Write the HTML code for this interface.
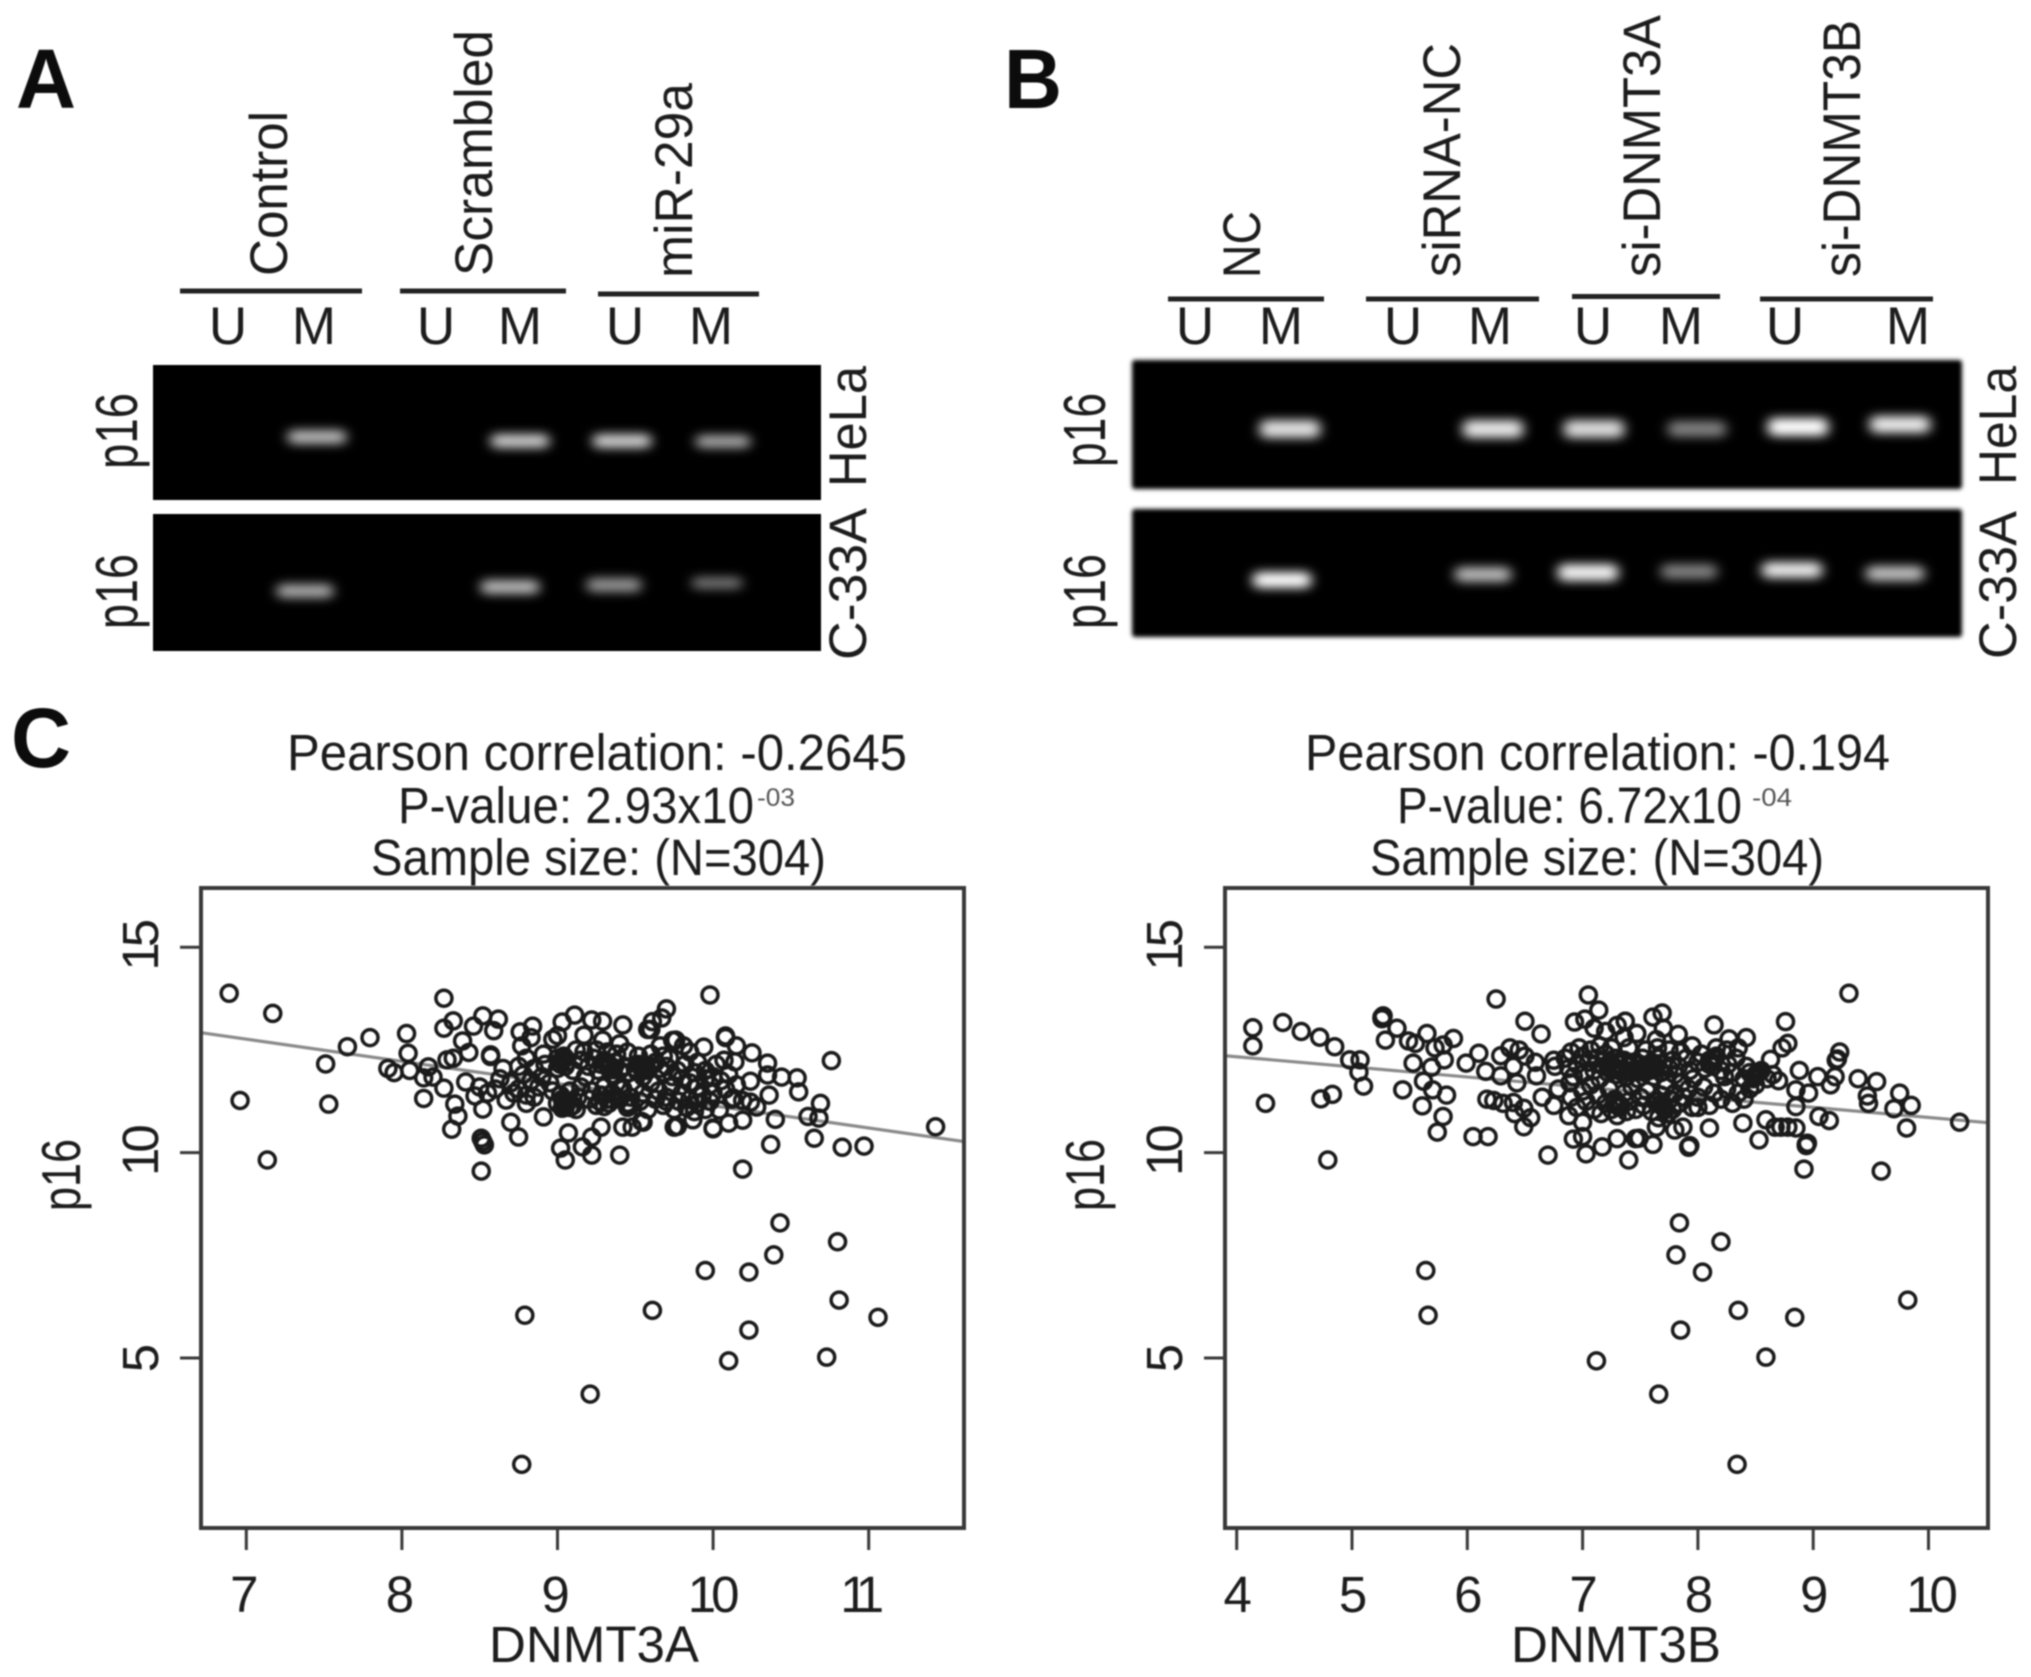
<!DOCTYPE html>
<html lang="en">
<head>
<meta charset="utf-8">
<title>p16 methylation and DNMT3A/DNMT3B correlation</title>
<style>
html,body{margin:0;padding:0;background:#fff;}
body{width:2031px;height:1677px;overflow:hidden;}
#figure{display:block;filter:blur(0.9px);}
text{font-family:"Liberation Sans",Arial,sans-serif;fill:#1c1c1c;}
.lab{font-size:53px;}
.gellab{font-size:59px;}
.ttl{font-size:51px;}
.let{font-size:84px;font-weight:bold;fill:#0c0c0c;}
.bar{stroke:#222;stroke-width:5;}
</style>
</head>
<body>
<svg id="figure" xmlns="http://www.w3.org/2000/svg" width="2031" height="1677" viewBox="0 0 2031 1677">
<defs>
<filter id="bandBlur" x="-40%" y="-150%" width="180%" height="400%"><feGaussianBlur stdDeviation="6 5"/></filter>
<filter id="edgeBlur" x="-2%" y="-5%" width="104%" height="110%"><feGaussianBlur stdDeviation="2"/></filter>
</defs>
<rect width="2031" height="1677" fill="#fff"/>

<!-- Panel letters -->
<text class="let" x="16" y="108" textLength="60" lengthAdjust="spacingAndGlyphs">A</text>
<text class="let" x="1004" y="108" textLength="58" lengthAdjust="spacingAndGlyphs">B</text>
<text class="let" x="11" y="767" textLength="60" lengthAdjust="spacingAndGlyphs">C</text>

<!-- Panel A group labels -->
<g>
<text class="lab" transform="translate(287,276) rotate(-90)" textLength="165" lengthAdjust="spacingAndGlyphs">Control</text>
<text class="lab" transform="translate(492,276) rotate(-90)" textLength="246" lengthAdjust="spacingAndGlyphs">Scrambled</text>
<text class="lab" transform="translate(692,278) rotate(-90)" textLength="195" lengthAdjust="spacingAndGlyphs">miR-29a</text>
<line class="bar" x1="180" y1="291" x2="362" y2="291"/>
<line class="bar" x1="400" y1="291" x2="566" y2="291"/>
<line class="bar" x1="598" y1="294" x2="759" y2="294"/>
<text class="lab" x="228" y="344" text-anchor="middle">U</text>
<text class="lab" x="314" y="344" text-anchor="middle">M</text>
<text class="lab" x="436" y="344" text-anchor="middle">U</text>
<text class="lab" x="520" y="344" text-anchor="middle">M</text>
<text class="lab" x="625" y="344" text-anchor="middle">U</text>
<text class="lab" x="711" y="344" text-anchor="middle">M</text>
</g>

<!-- Panel A gels -->
<g>
<rect x="153" y="365" width="668" height="135" fill="#000"/>
<rect x="153" y="514" width="668" height="137" fill="#000"/>
<g fill="#fff" filter="url(#bandBlur)">
<rect x="288" y="430" width="58" height="14" rx="5" opacity=".72"/>
<rect x="491" y="434" width="58" height="14" rx="5" opacity=".8"/>
<rect x="593" y="434" width="58" height="14" rx="5" opacity=".82"/>
<rect x="696" y="435" width="54" height="13" rx="5" opacity=".65"/>
<rect x="277" y="584" width="56" height="14" rx="5" opacity=".66"/>
<rect x="481" y="580" width="58" height="14" rx="5" opacity=".72"/>
<rect x="587" y="578" width="54" height="14" rx="5" opacity=".58"/>
<rect x="692" y="577" width="50" height="12" rx="5" opacity=".45"/>
</g>
</g>
<text class="gellab" transform="translate(137,469) rotate(-90)" textLength="76" lengthAdjust="spacingAndGlyphs">p16</text>
<text class="gellab" transform="translate(137,629) rotate(-90)" textLength="75" lengthAdjust="spacingAndGlyphs">p16</text>
<text class="lab" transform="translate(866,487) rotate(-90)" textLength="121" lengthAdjust="spacingAndGlyphs">HeLa</text>
<text class="lab" transform="translate(866,660) rotate(-90)" textLength="152" lengthAdjust="spacingAndGlyphs">C-33A</text>

<!-- Panel B group labels -->
<g>
<text class="lab" transform="translate(1260,278) rotate(-90)" textLength="67" lengthAdjust="spacingAndGlyphs">NC</text>
<text class="lab" transform="translate(1460,277) rotate(-90)" textLength="234" lengthAdjust="spacingAndGlyphs">siRNA-NC</text>
<text class="lab" transform="translate(1660,277) rotate(-90)" textLength="262" lengthAdjust="spacingAndGlyphs">si-DNMT3A</text>
<text class="lab" transform="translate(1860,277) rotate(-90)" textLength="257" lengthAdjust="spacingAndGlyphs">si-DNMT3B</text>
<line class="bar" x1="1168" y1="299" x2="1324" y2="299"/>
<line class="bar" x1="1366" y1="299" x2="1539" y2="299"/>
<line class="bar" x1="1572" y1="296.5" x2="1720" y2="296.5"/>
<line class="bar" x1="1760" y1="299" x2="1933" y2="299"/>
<text class="lab" x="1195" y="344" text-anchor="middle">U</text>
<text class="lab" x="1281" y="344" text-anchor="middle">M</text>
<text class="lab" x="1403" y="344" text-anchor="middle">U</text>
<text class="lab" x="1490" y="344" text-anchor="middle">M</text>
<text class="lab" x="1593" y="344" text-anchor="middle">U</text>
<text class="lab" x="1681" y="344" text-anchor="middle">M</text>
<text class="lab" x="1785" y="344" text-anchor="middle">U</text>
<text class="lab" x="1908" y="344" text-anchor="middle">M</text>
</g>

<!-- Panel B gels -->
<g>
<rect x="1132" y="360" width="830" height="129" rx="3" fill="#000" filter="url(#edgeBlur)"/>
<rect x="1132" y="509" width="830" height="128" rx="3" fill="#000" filter="url(#edgeBlur)"/>
<g fill="#fff" filter="url(#bandBlur)">
<rect x="1260" y="420" width="60" height="18" rx="6" opacity=".88"/>
<rect x="1463" y="420" width="60" height="18" rx="6" opacity=".9"/>
<rect x="1564" y="420" width="60" height="18" rx="6" opacity=".86"/>
<rect x="1668" y="421" width="58" height="16" rx="6" opacity=".5"/>
<rect x="1768" y="418" width="60" height="18" rx="6" opacity="1"/>
<rect x="1870" y="416" width="60" height="17" rx="6" opacity=".92"/>
<rect x="1253" y="572" width="58" height="16" rx="6" opacity="1"/>
<rect x="1455" y="567" width="56" height="15" rx="6" opacity=".72"/>
<rect x="1558" y="564" width="60" height="17" rx="6" opacity=".95"/>
<rect x="1661" y="564" width="56" height="15" rx="6" opacity=".5"/>
<rect x="1762" y="562" width="60" height="16" rx="6" opacity=".92"/>
<rect x="1866" y="566" width="58" height="15" rx="6" opacity=".75"/>
</g>
</g>
<text class="gellab" transform="translate(1105,467) rotate(-90)" textLength="74" lengthAdjust="spacingAndGlyphs">p16</text>
<text class="gellab" transform="translate(1105,629) rotate(-90)" textLength="75" lengthAdjust="spacingAndGlyphs">p16</text>
<text class="lab" transform="translate(2016,485) rotate(-90)" textLength="119" lengthAdjust="spacingAndGlyphs">HeLa</text>
<text class="lab" transform="translate(2016,659) rotate(-90)" textLength="148" lengthAdjust="spacingAndGlyphs">C-33A</text>

<!-- Titles of scatter plots -->
<g>
<text class="ttl" x="287" y="770" textLength="620" lengthAdjust="spacingAndGlyphs">Pearson correlation: -0.2645</text>
<text class="ttl" x="398" y="823" textLength="356" lengthAdjust="spacingAndGlyphs">P-value: 2.93x10</text>
<text x="757" y="806" font-size="25" textLength="38" lengthAdjust="spacingAndGlyphs" style="fill:#555">-03</text>
<text class="ttl" x="371" y="875" textLength="455" lengthAdjust="spacingAndGlyphs">Sample size: (N=304)</text>
</g>
<g>
<text class="ttl" x="1397" y="823" textLength="345" lengthAdjust="spacingAndGlyphs">P-value: 6.72x10</text>
<text x="1752" y="806" font-size="25" textLength="40" lengthAdjust="spacingAndGlyphs" style="fill:#555">-04</text>
<text class="ttl" x="1305" y="770" textLength="585" lengthAdjust="spacingAndGlyphs">Pearson correlation: -0.194</text>
<text class="ttl" x="1370" y="875" textLength="454" lengthAdjust="spacingAndGlyphs">Sample size: (N=304)</text>
</g>

<g id="plot-left"></g>
<g id="plot-right"></g>
</svg>

<script>
// Tick values
const xTicksLeft = [7, 8, 9, 10, 11];
const xTicksRight = [4, 5, 6, 7, 8, 9, 10];
const yTicks = [5, 10, 15];

// Fitted line, p16 value at the left and right plot edges
const fitLeft = [12.92, 10.27];
const fitRight = [12.36, 10.73];

// Left plot: DNMT3A expression (x) and p16 expression (y)
const dnmt3aValues = [
6.89,7.17,6.96,7.135,7.51,7.53,7.65,7.795,8.03,8.04,7.91,7.95,8.05,8.27,8.27,8.33,8.39,8.43,8.46,8.52,
8.62,8.59,8.57,8.57,8.57,8.17,8.14,8.2,8.29,8.33,8.27,8.14,8.34,8.36,8.32,8.41,8.47,8.52,8.51,8.53,
8.51,8.52,8.70,8.75,8.67,8.80,8.91,9.02,9.05,9.07,9.22,9.40,9.16,9.22,9.28,9.42,9.54,9.48,9.75,9.42,
9.11,9.03,8.84,8.76,9.22,9.29,9.70,9.67,9.61,9.58,9.17,9.29,8.97,9.0,8.77,8.83,8.91,9.17,9.74,9.40,
9.98,10.76,11.43,10.97,10.83,10.65,10.40,10.37,10.19,10.69,10.68,10.61,10.55,10.54,10.44,10.36,10.24,10.35,10.25,10.35,
10.15,10.08,10.08,10.08,10.14,10.07,9.94,10.0,10.0,10.10,10.19,10.28,10.13,10.19,10.24,10.04,9.77,9.87,9.55,9.76,9.66,9.60,9.81,
8.79,8.77,9.21,9.61,9.95,10.10,10.23,10.23,10.39,10.43,10.73,10.80,10.81,11.06,
9.0,9.02,9.03,9.05,9.04,9.0,9.06,9.1,9.03,9.05,9.07,9.1,9.12,9.0,9.02,9.08,9.13,9.15,
9.2,9.23,9.26,9.28,9.3,9.33,9.35,9.37,9.4,9.43,9.46,9.5,9.52,9.55,9.58,9.6,9.63,9.66,9.68,9.7,9.72,9.74,9.77,9.8,9.82,9.85,9.88,9.9,
9.2,9.22,9.25,9.28,9.3,9.33,9.35,9.38,9.4,9.42,9.45,9.47,9.5,9.53,9.55,9.58,9.6,9.63,9.65,9.68,9.7,9.73,9.75,9.78,9.8,9.83,9.85,9.88,9.9,9.93,9.95,9.98,
8.75,8.78,8.8,8.83,8.85,8.88,8.9,8.92,8.95,8.97,8.7,8.72,8.75,8.8,8.85,8.6,8.63,8.55,8.5,8.65,
9.12,9.15,9.18,9.25,9.32,9.38,9.45,9.52,9.6,9.68,9.85,9.9,9.95,10.0,10.02,10.05,10.08,10.1,10.12,10.15,10.0,9.98,9.95,
9.03,9.01,9.05,9.04,9.06,9.03,9.08,9.34,9.36,9.31,9.55,9.57,9.53,9.51,9.27,9.3,9.32,9.45,9.47,9.7
];
const p16LeftValues = [
13.88,13.39,11.27,9.82,12.16,11.18,12.58,12.8,12.9,12.42,12.05,11.95,12.0,13.76,13.03,13.21,12.72,12.44,13.08,13.33,
13.25,12.97,12.36,12.38,12.34,12.09,11.82,11.84,12.26,12.3,11.57,11.32,11.18,10.89,10.57,11.72,11.38,11.06,10.35,10.19,
9.55,10.27,10.74,10.38,11.28,11.2,10.87,10.11,9.82,10.48,9.94,9.94,10.14,10.38,10.62,10.62,10.76,10.62,10.62,13.11,
13.35,13.18,13.08,12.94,13.23,13.2,13.5,13.28,13.19,13.0,12.86,12.74,12.76,12.85,12.6,12.8,12.4,12.45,12.73,12.65,
13.84,12.24,10.63,10.16,10.13,10.35,10.81,10.2,9.6,11.2,10.84,10.88,11.48,11.82,11.84,11.4,11.74,12.18,12.43,11.89,
12.6,12.82,12.84,12.8,12.21,12.25,12.57,10.6,10.58,10.72,10.79,11.11,11.33,11.27,11.23,11.04,10.64,10.8,10.74,12.74,12.6,13.0,12.6,
6.04,2.41,4.12,6.16,7.13,4.93,7.09,5.68,7.51,8.29,5.02,7.83,6.41,5.99,
12.3,12.15,12.25,12.1,12.35,12.05,12.2,12.0,11.3,11.1,11.25,11.15,11.05,11.2,11.4,11.5,11.35,11.6,
12.1,12.3,12.0,12.15,12.25,12.05,11.9,12.2,12.0,12.1,11.95,12.05,12.15,11.85,12.0,12.1,12.2,12.05,11.95,12.1,12.3,11.85,12.0,11.8,12.15,11.7,11.95,11.6,
11.3,11.5,11.15,11.4,11.6,11.2,11.45,11.7,11.3,11.55,11.1,11.35,11.6,11.25,11.45,11.05,11.7,11.3,11.5,11.15,11.35,11.6,11.05,11.25,11.45,11.1,11.3,11.0,11.2,11.4,11.05,11.25,
12.1,11.9,12.3,11.75,12.05,11.6,11.85,12.15,11.7,11.5,11.7,11.45,11.55,11.4,11.35,11.55,11.8,11.45,11.6,12.05,
12.5,12.25,11.85,12.5,12.45,12.4,12.45,12.35,12.4,12.35,12.45,12.2,12.0,11.85,12.15,11.75,11.55,11.9,11.3,11.65,11.45,11.65,11.8,
12.28,12.18,12.3,11.15,11.2,11.08,11.1,12.12,12.02,12.18,12.0,12.08,12.1,11.98,11.25,11.12,11.3,11.2,11.15,11.25
];

// Right plot: DNMT3B expression (x) and p16 expression (y)
const dnmt3bValues = [
4.14,4.14,4.40,4.56,4.72,4.85,4.98,5.07,5.06,5.10,4.83,4.73,4.25,4.79,5.26,5.26,5.27,5.39,5.29,5.49,
5.55,5.65,5.88,5.72,5.79,5.80,5.53,5.69,5.62,5.70,5.82,5.44,5.61,5.79,5.74,6.05,6.18,6.25,5.99,6.10,
6.16,6.29,6.29,6.50,6.64,6.37,6.45,6.5,6.40,6.43,6.59,6.6,6.17,6.23,6.31,6.4,6.41,6.49,6.55,6.49,
6.70,6.75,6.76,6.65,6.75,6.89,6.79,6.88,7.0,6.92,7.0,7.03,7.17,7.30,7.40,7.46,7.05,7.14,6.93,7.02,
7.10,7.20,7.30,7.37,7.36,7.47,
9.31,8.76,8.14,8.42,8.27,8.78,8.73,8.63,9.23,9.2,9.21,8.42,8.88,9.19,9.15,9.04,9.39,9.55,9.47,9.48,
9.75,9.85,9.70,9.81,10.27,9.14,9.05,8.85,8.78,8.72,8.67,8.85,8.85,8.96,8.59,8.53,8.39,8.10,8.0,7.92,
7.92,7.93,7.87,7.80,7.61,7.49,7.64,8.94,8.94,8.95,8.92,9.59,7.69,7.61,7.37,7.47,7.70,7.83,7.64,7.95,8.16,
5.64,5.66,7.12,7.66,7.81,7.84,7.85,8.04,8.20,8.35,8.34,8.59,8.84,9.82,
6.85,6.88,6.9,6.92,6.95,6.97,7.0,7.02,7.05,7.07,7.1,7.12,7.15,7.18,7.2,7.22,7.24,7.26,7.28,7.3,7.32,7.34,7.36,7.38,7.4,7.42,7.44,7.46,7.48,7.5,7.52,7.54,7.56,7.58,7.6,7.62,7.64,7.66,7.68,7.7,7.72,7.75,7.78,7.8,7.83,7.86,7.9,7.93,7.96,8.0,8.03,8.06,8.1,8.13,8.16,8.2,8.23,8.26,8.3,8.33,8.4,8.45,8.5,8.55,8.6,8.65,8.7,
6.9,6.95,7.0,7.03,7.07,7.1,7.13,7.16,7.2,7.23,7.25,7.28,7.3,7.33,7.36,7.38,7.4,7.43,7.46,7.5,7.53,7.56,7.6,7.63,7.66,7.68,7.7,7.72,7.74,7.76,7.78,7.8,7.84,7.88,7.92,7.95,8.0,8.05,8.1,8.14,8.2,8.25,8.3,8.35,8.4,8.45,8.5,
7.15,7.25,7.4,7.55,7.65,7.75,7.85,8.25,8.35,
7.25,7.27,7.3,7.22,7.33,7.3,7.28,7.32,7.58,7.6,7.55,7.7,7.72,7.68,8.12,8.14,8.1,8.5,8.52,8.48
];
const p16RightValues = [
13.04,12.6,13.17,12.95,12.81,12.58,12.26,12.26,11.96,11.62,11.42,11.31,11.2,9.82,13.3,13.26,13.33,13.03,12.74,12.72,
12.66,12.9,12.78,12.55,12.62,12.26,12.18,12.08,11.74,11.53,11.4,11.53,11.14,10.88,10.5,10.39,10.39,13.74,12.18,12.42,
11.98,12.36,11.87,13.2,12.89,12.55,12.5,12.35,12.1,11.7,12.2,11.87,11.3,11.27,11.2,11.22,10.95,11.08,10.85,10.63,
9.94,12.25,12.1,11.35,11.15,11.7,11.55,10.9,10.74,10.33,10.39,9.97,10.14,10.34,9.82,10.34,13.84,13.47,13.18,13.25,
13.03,12.95,13.1,13.2,12.8,12.9,
13.88,13.19,13.11,12.8,12.77,12.66,12.55,12.27,12.45,12.25,12.28,12.1,12.0,11.85,11.65,11.85,11.8,11.73,11.38,11.2,
11.45,11.15,11.07,10.6,10.74,10.78,10.88,10.6,10.62,10.62,10.62,11.12,11.53,11.45,10.8,10.31,10.72,10.6,11.1,10.15,
10.13,10.17,10.62,10.55,10.2,10.35,10.62,10.2,10.17,10.23,9.6,9.55,13.4,13.3,13.2,12.9,13.03,12.88,12.75,12.6,12.55,
7.13,6.04,4.93,4.12,7.51,8.29,5.68,7.09,7.83,6.16,2.41,5.02,5.99,6.41,
12.3,12.05,12.45,11.85,12.15,12.55,12.35,11.95,12.2,12.5,12.0,12.3,11.8,12.1,12.4,11.95,12.2,12.05,12.3,11.9,12.15,12.0,12.25,11.85,12.1,11.95,12.2,12.05,11.8,12.15,12.3,11.95,12.1,12.0,12.2,11.85,12.1,12.3,11.95,12.15,11.75,12.05,12.25,11.9,12.1,11.7,12.3,12.0,11.8,12.2,12.4,12.05,12.25,12.1,12.35,12.0,11.85,12.15,11.95,12.3,11.8,11.95,11.85,12.0,11.8,11.9,11.75,
11.35,11.1,11.5,11.25,11.65,11.05,11.4,10.95,11.2,11.55,11.05,11.3,10.9,11.15,11.45,11.0,11.25,11.6,11.05,11.35,11.15,11.5,11.0,11.25,10.85,11.4,11.1,11.6,10.95,11.3,11.05,11.45,11.2,11.35,11.55,11.1,11.35,11.6,11.15,11.45,11.3,11.55,11.2,11.45,11.3,11.55,11.65,
12.6,12.55,12.55,12.5,12.55,12.5,12.45,12.5,12.55,
12.0,12.1,12.05,12.12,11.98,11.15,11.22,11.1,12.05,12.12,12.0,11.12,11.05,11.18,12.2,12.28,12.15,11.9,11.95,11.8
];

const SVG_NS = 'http://www.w3.org/2000/svg';

function make(tag, attrs, parent) {
  const el = document.createElementNS(SVG_NS, tag);
  for (const k in attrs) el.setAttribute(k, attrs[k]);
  parent.appendChild(el);
  return el;
}

// Axis functions
const yScale = v => 1358 - (v - 5) * 41.07;
const xScaleLeft = v => 246.3 + (v - 7) * 155.6;
const xScaleRight = v => 1236.7 + (v - 4) * 115.3;

function drawPlot(cfg) {
  const g = document.getElementById(cfg.id);
  const L = cfg.left, R = cfg.right, T = 888, B = 1528;

  const fit = make('line', {
    x1: L, y1: yScale(cfg.fit[0]), x2: R, y2: yScale(cfg.fit[1]),
    stroke: '#8a8a8a', 'stroke-width': 3.2
  }, g);
  
  

  const layer = make('g', {fill: 'none', stroke: '#1a1a1a', 'stroke-width': 3.5}, g);
  
  
  cfg.xs.forEach((xv, i) => {
    const c = make('circle', {cx: cfg.x(xv), cy: yScale(cfg.ys[i]), r: 8}, layer);
    
    
  });

  const frame = make('rect', {
    x: L, y: T, width: R - L, height: B - T,
    fill: 'none', stroke: '#383838', 'stroke-width': 4
  }, g);
  
  

  cfg.xTicks.forEach(v => {
    const px = cfg.x(v);
    const t = make('line', {x1: px, y1: B, x2: px, y2: B + 22, stroke: '#383838', 'stroke-width': 3}, g);
    
    
    const narrow = v === 11;
    const lb = make('text', {
      x: px + cfg.labelDx - (narrow ? 9 : 0), y: 1612, 'text-anchor': 'middle', 'font-size': 51,
      'letter-spacing': narrow ? -9 : (String(v).length > 1 ? -5 : 0)
    }, g);
    lb.textContent = v;
    
    
  });

  yTicks.forEach(v => {
    const py = yScale(v);
    const t = make('line', {x1: L - 21, y1: py, x2: L, y2: py, stroke: '#383838', 'stroke-width': 3}, g);
    
    
    const lb = make('text', {
      transform: 'translate(' + (L - 43) + ',' + py + ') rotate(-90)',
      'text-anchor': 'middle', 'font-size': 51, 'letter-spacing': String(v).length > 1 ? -5 : 0
    }, g);
    lb.textContent = v;
    
    
  });

  const xt = make('text', {
    x: cfg.xLabelX, y: 1662, 'text-anchor': 'middle', 'font-size': 51,
    textLength: 210, lengthAdjust: 'spacingAndGlyphs'
  }, g);
  xt.textContent = cfg.xLabel;
  
  

  const yt = make('text', {
    transform: 'translate(' + (L - 121) + ',1211) rotate(-90)',
    'font-size': 55, textLength: 72, lengthAdjust: 'spacingAndGlyphs'
  }, g);
  yt.textContent = 'p16';
  
  
}

drawPlot({
  id: 'plot-left', left: 201, right: 964, x: xScaleLeft, labelDx: -2,
  xs: dnmt3aValues, ys: p16LeftValues, xTicks: xTicksLeft,
  fit: fitLeft, xLabel: 'DNMT3A', xLabelX: 594
});
drawPlot({
  id: 'plot-right', left: 1225, right: 1988, x: xScaleRight, labelDx: 1,
  xs: dnmt3bValues, ys: p16RightValues, xTicks: xTicksRight,
  fit: fitRight, xLabel: 'DNMT3B', xLabelX: 1616
});
</script>
</body>
</html>
